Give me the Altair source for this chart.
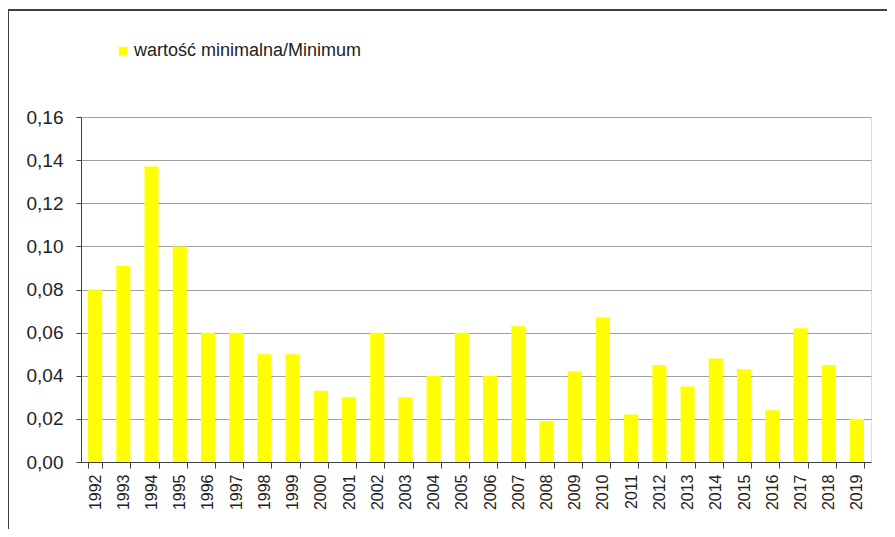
import altair as alt
import pandas as pd

years = [str(y) for y in range(1992, 2020)]
values = [0.080, 0.091, 0.137, 0.100, 0.060, 0.060, 0.050, 0.050, 0.033, 0.030,
          0.060, 0.030, 0.040, 0.060, 0.040, 0.063, 0.019, 0.042, 0.067, 0.022,
          0.045, 0.035, 0.048, 0.043, 0.024, 0.062, 0.045, 0.020]
series_name = "wartość minimalna/Minimum"
y_ticks = [0.0, 0.02, 0.04, 0.06, 0.08, 0.10, 0.12, 0.14, 0.16]

df = pd.DataFrame({"year": years, "value": values, "series": series_name})

FONT = "Liberation Sans"
W, H = 790, 345

bars = alt.Chart(df).mark_bar(strokeWidth=0).encode(
    x=alt.X("year:O", sort=years,
            scale=alt.Scale(paddingInner=0.5, paddingOuter=0.25),
            axis=alt.Axis(title=None, labelAngle=-90, tickBand="extent",
                          labelFont=FONT, labelFontSize=16, labelColor="#222222",
                          labelPadding=6, tickSize=6, tickColor="#404040",
                          domainColor="#404040", grid=False)),
    y=alt.Y("value:Q",
            scale=alt.Scale(domain=[0, 0.16], nice=False),
            axis=alt.Axis(title=None, values=y_ticks,
                          labelExpr="replace(format(datum.value, '.2f'), '.', ',')",
                          labelFont=FONT, labelFontSize=19, labelColor="#222222",
                          labelPadding=13, tickSize=5, tickColor="#404040",
                          domainColor="#404040", grid=True, gridColor="#a0a0a0",
                          gridWidth=1)),
    color=alt.Color("series:N", scale=alt.Scale(range=["#ffff00"]),
                    legend=alt.Legend(title=None, orient="none", legendX=33, legendY=-75,
                                      symbolType="square", symbolSize=70,
                                      symbolStrokeWidth=0, labelFont=FONT,
                                      labelFontSize=18, labelColor="#222222",
                                      labelOffset=2, labelLimit=0, padding=0)),
)

frame_left = alt.Chart(df).mark_rule(color="#404040", strokeWidth=1, clip=False).encode(
    x=alt.value(-73), y=alt.value(-107), y2=alt.value(420))
frame_top = alt.Chart(df).mark_rule(color="#404040", strokeWidth=1, clip=False).encode(
    x=alt.value(-73), x2=alt.value(814), y=alt.value(-107))

chart = alt.layer(bars, frame_left, frame_top).properties(
    width=W, height=H,
    autosize=alt.AutoSizeParams(type="none"),
    padding={"left": 73, "top": 109, "right": 16, "bottom": 67},
).configure_view(stroke=None).configure(background="white")

chart.save("out.html", embed_options={"renderer": "svg", "actions": False})
